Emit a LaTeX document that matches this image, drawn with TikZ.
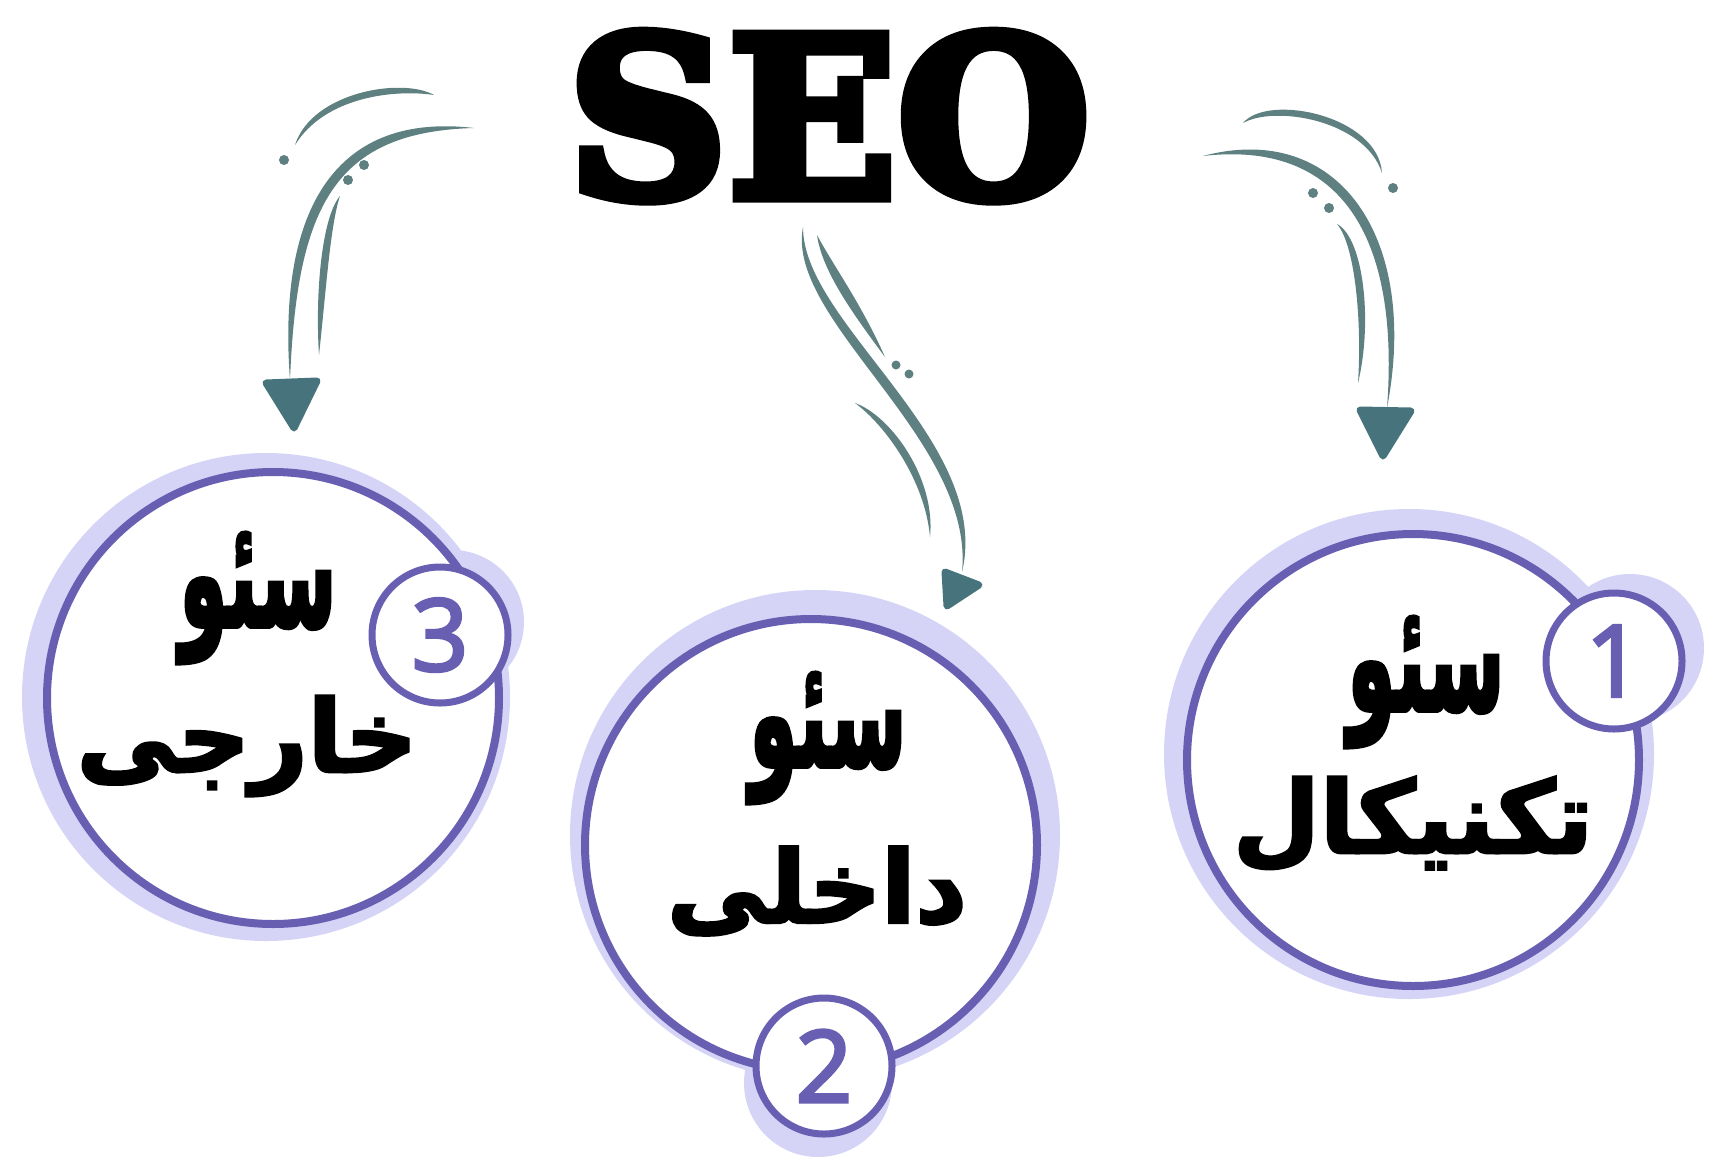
\documentclass[tikz,border=0pt]{standalone}
\usepackage{fontspec}
\usepackage{tikz}
\usetikzlibrary{calc}
\TeXXeTstate=1
\definecolor{arrow_c}{RGB}{94,128,128}
\definecolor{head_c}{RGB}{71,116,124}
\definecolor{ring_c}{RGB}{104,94,178}
\definecolor{halo_c}{RGB}{213,212,247}
\newfontfamily\seofont[FakeBold=5]{DejaVu Serif Bold}
\newfontfamily\fafont[Script=Arabic,FakeBold=3]{DejaVu Sans Bold}
\newfontfamily\numfont[FakeBold=3]{Open Sans}
\newcommand{\brushstroke}[5]{%
  \fill[arrow_c] (#2) .. controls (#3) and (#4) .. (#5)
    .. controls ($(#4)!#1!90:(#5)$) and ($(#3)!#1!-90:(#2)$) .. (#2) -- cycle;}
\begin{document}
\begin{tikzpicture}[
			x=1pt, y=-1pt,
			ring/.style = {circle, draw=ring_c, line width=8, fill=white, minimum size=452, inner sep=0},
			badge/.style = {circle, draw=ring_c, line width=7, fill=white, minimum size=136, inner sep=0,
				text=ring_c, font=\numfont\fontsize{100}{100}\selectfont},
			fa/.style = {inner sep=0, font=\fafont\fontsize{100}{100}\selectfont},
			head/.style = {fill=head_c, draw=head_c, line width=7, line join=round},
			]
			\fill[white] (0,0) rectangle (1728,1162);
			\useasboundingbox (0,0) rectangle (1728,1162);
			\node[anchor=base, inner sep=0, font=\seofont\fontsize{222}{222}\selectfont] (seo) at (829,197) {SEO};
			% halos
			\fill[halo_c] (266,697) circle (244);
			\fill[halo_c] (815,835) circle (245);
			\fill[halo_c] (1409,754) circle (245);
			\fill[halo_c] (452,622) circle (72);
			\fill[halo_c] (818,1083) circle (74);
			\fill[halo_c] (1630,648) circle (74);
			% circles
			\node[ring] (c3) at (273,698) {};
			\node[ring] (c2) at (811,845) {};
			\node[ring] (c1) at (1413,760) {};
			% texts
			\node[fa] (t3a) at (258,598) {\scalebox{0.78}[1.5]{\beginR سئو\endR}};
			\node[fa] (t3b) at (247,746) {\beginR خارجی\endR};
			\node[fa] (t2a) at (828,738) {\scalebox{0.78}[1.5]{\beginR سئو\endR}};
			\node[fa] (t2b) at (817,891) {\beginR داخلی\endR};
			\node[fa] (t1a) at (1426,682) {\scalebox{0.78}[1.5]{\beginR سئو\endR}};
			\node[fa] (t1b) at (1413,824) {\beginR تکنیکال\endR};
			% badges
			\node[badge] (b3) at (440,635) {3};
			\node[badge] (b2) at (824,1066) {2};
			\node[badge] (b1) at (1614,661) {1};
			% arrow ends
			\coordinate (l_s) at (474,128);
			\coordinate (l_e) at (290,380);
			\coordinate (m_s) at (803,227);
			\coordinate (m_e) at (962,572);
			\coordinate (r_s) at (1203,156);
			\coordinate (r_e) at (1387,408);
			% left arrow
			\brushstroke{20pt}{l_s}{337,112}{277,207}{l_e}
			\brushstroke{14pt}{434,95}{402,77}{312,92}{295,145}
			\brushstroke{11pt}{340,196}{322,217}{315,292}{319,355}
			\fill[arrow_c] (364,165) circle (5) (348,180) circle (5) (284,160) circle (5);
			\filldraw[head] (266,383) -- (317,381) -- (294,428) -- cycle;
			% middle arrow
			\brushstroke{18pt}{m_s}{785,320}{975,440}{m_e}
			\brushstroke{13pt}{817,235}{822,270}{850,310}{885,357}
			\brushstroke{11pt}{855,403}{885,425}{925,480}{930,537}
			\fill[arrow_c] (896,365) circle (4.5) (909,374) circle (4.5);
			\filldraw[head] (945,572) -- (979,585) -- (947,606) -- cycle;
			% right arrow
			\brushstroke{20pt}{r_s}{1340,140}{1400,235}{r_e}
			\brushstroke{14pt}{1243,123}{1275,105}{1365,120}{1382,173}
			\brushstroke{11pt}{1337,224}{1355,245}{1362,320}{1358,383}
			\fill[arrow_c] (1313,193) circle (5) (1329,208) circle (5) (1393,188) circle (5);
			\filldraw[head] (1360,410) -- (1411,411) -- (1383,456) -- cycle;
		\end{tikzpicture}
\end{document}
